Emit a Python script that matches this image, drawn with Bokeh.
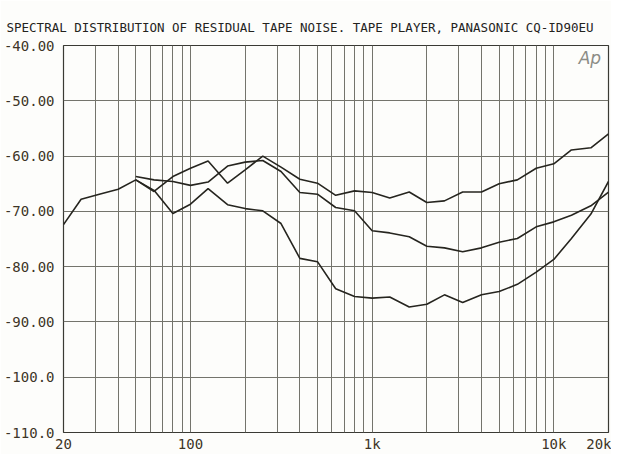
from bokeh.plotting import figure
from bokeh.models import Range1d, FixedTicker, Label
from bokeh.embed import file_html
from bokeh.resources import INLINE

# 1/3-octave frequencies (Hz)
freq_low = [20, 25, 31.5, 40, 50, 63, 80, 100, 125, 160, 200, 250, 315, 400, 500,
            630, 800, 1000, 1250, 1600, 2000, 2500, 3150, 4000, 5000, 6300, 8000,
            10000, 12500, 16000, 20000]
# bottom curve at high frequencies (full range)
level_bottom = [-72.4, -67.8, -66.9, -66.0, -64.3, -66.2, -70.4, -68.7, -65.9, -68.8,
                -69.5, -69.9, -72.2, -78.5, -79.1, -84.0, -85.4, -85.7, -85.5, -87.3,
                -86.8, -85.1, -86.5, -85.1, -84.5, -83.2, -81.0, -78.7, -74.9, -70.5,
                -64.6]

freq_mid = [50, 63, 80, 100, 125, 160, 200, 250, 315, 400, 500, 630, 800, 1000, 1250,
            1600, 2000, 2500, 3150, 4000, 5000, 6300, 8000, 10000, 12500, 16000, 20000]
level_middle = [-63.7, -64.3, -64.6, -65.3, -64.7, -61.8, -61.1, -60.8, -62.8, -66.6,
                -66.9, -69.3, -69.9, -73.5, -73.9, -74.6, -76.3, -76.6, -77.3, -76.6,
                -75.6, -74.9, -72.8, -71.9, -70.7, -69.0, -66.5]

freq_top = [50, 63, 80, 100, 125, 160, 200, 250, 315, 400, 500, 630, 800, 1000, 1250,
            1600, 2000, 2500, 3150, 4000, 5000, 6300, 8000, 10000, 12500, 16000, 20000]
level_top = [-64.3, -66.4, -63.7, -62.2, -60.9, -64.9, -62.5, -60.0, -62.0, -64.2,
             -64.9, -67.1, -66.3, -66.6, -67.6, -66.5, -68.4, -68.1, -66.5, -66.5,
             -65.0, -64.3, -62.2, -61.4, -58.9, -58.5, -56.0]

x_ticks = [20, 100, 1000, 10000, 20000]
x_tick_labels = ["20", "100", "1k", "10k", "20k"]
x_minor = [30, 40, 50, 60, 70, 80, 90, 200, 300, 400, 500, 600, 700, 800, 900,
           2000, 3000, 4000, 5000, 6000, 7000, 8000, 9000]
y_ticks = [-110, -100, -90, -80, -70, -60, -50, -40]
y_tick_labels = ["-110.0", "-100.0", "-90.00", "-80.00", "-70.00", "-60.00", "-50.00", "-40.00"]

title_text = "SPECTRAL DISTRIBUTION OF RESIDUAL TAPE NOISE. TAPE PLAYER, PANASONIC CQ-ID90EU"

FONT = "DejaVu Sans Mono"
INK = "#26251f"
GRID = "#74746c"
LABEL = "#3d3527"

p = figure(width=611, height=454, x_axis_type="log",
           x_range=Range1d(20, 20000), y_range=Range1d(-110, -40),
           output_backend="svg", toolbar_location=None,
           min_border_left=61, min_border_right=3, min_border_top=45,
           min_border_bottom=18)
p.background_fill_color = "#fdfdfb"
p.border_fill_color = "#fdfdfb"
p.outline_line_color = "#3a3a34"
p.outline_line_width = 1.2

p.title.text = title_text
p.title.align = "left"
p.title.offset = -57
p.title.standoff = 21
p.title.text_font = FONT
p.title.text_font_size = "12.5px"
p.title.text_font_style = "normal"
p.title.text_color = "#24231d"

p.xaxis.ticker = FixedTicker(ticks=x_ticks, minor_ticks=x_minor)
p.xaxis.major_label_overrides = {t: s for t, s in zip(x_ticks, x_tick_labels)}
p.yaxis.ticker = FixedTicker(ticks=y_ticks)
p.yaxis.major_label_overrides = {t: s for t, s in zip(y_ticks, y_tick_labels)}

for ax in (p.xaxis, p.yaxis):
    ax.axis_line_color = None
    ax.major_tick_line_color = None
    ax.minor_tick_line_color = None
    ax.major_tick_out = 0
    ax.major_tick_in = 0
    ax.minor_tick_out = 0
    ax.minor_tick_in = 0
    ax.major_label_text_font = FONT
    ax.major_label_text_font_size = "14px"
    ax.major_label_text_color = LABEL
p.yaxis.major_label_standoff = 9
p.xaxis.major_label_standoff = 3

p.xgrid.grid_line_color = GRID
p.xgrid.minor_grid_line_color = GRID
p.xgrid.grid_line_width = 1
p.xgrid.minor_grid_line_width = 1
p.ygrid.grid_line_color = GRID
p.ygrid.grid_line_width = 1

for fx, lv in ((freq_low, level_bottom), (freq_mid, level_middle), (freq_top, level_top)):
    p.line(fx, lv, line_color=INK, line_width=1.6)

p.add_layout(Label(x=15800, y=-42.2, text="Ap", text_font="DejaVu Sans",
                   text_font_style="italic", text_font_size="17px",
                   text_color="#8c8c86", text_align="center",
                   text_baseline="middle"))

open("out.html", "w").write(file_html(p, INLINE))
